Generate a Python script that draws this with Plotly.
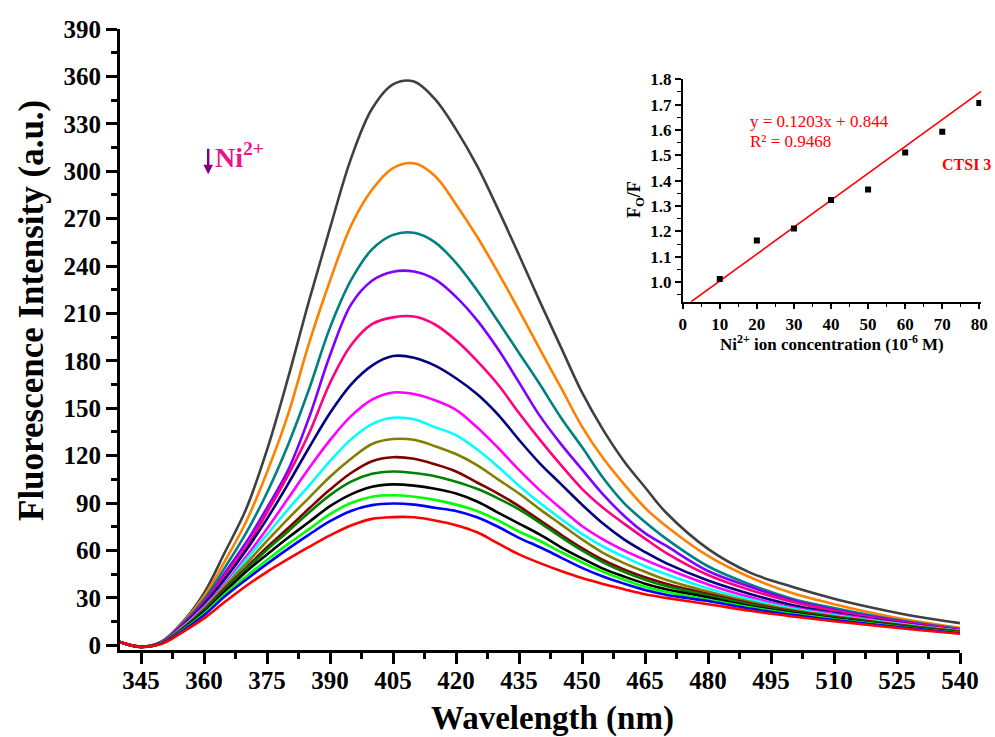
import plotly.graph_objects as go

# ---------------- data ----------------
wavelength = [340, 345, 350, 355, 360, 365, 370, 375, 380, 385, 390, 395, 400, 405, 410, 415, 420,
              425, 430, 435, 440, 445, 450, 455, 460, 465, 470, 480, 490, 500, 510, 520, 530, 540]

s_gray = [2, -1, 2.5, 15, 33, 59, 86, 123.6, 169, 218, 264, 308, 339.5, 355, 356.8, 345.6, 326.5,
          303.5, 276, 247, 217.3, 188.5, 160, 136.5, 116.5, 100, 84, 61, 46, 37, 29.5, 23.3, 18, 14]
s_orange = [2, -1, 2.4, 14.5, 31, 53.4, 78, 109.5, 146, 191, 230.7, 265.5, 288.3, 302, 305, 297,
            279, 258.7, 236, 212, 187.2, 163, 138.4, 118.5, 102, 87, 75.5, 56.5, 43, 33, 26, 20, 15, 11]
s_teal = [2, -1, 2.3, 14, 29, 49.3, 71, 96.5, 126.7, 162, 201, 231, 250.5, 259.7, 261, 255, 242,
          224.7, 205, 185, 165, 144, 125.4, 106, 90, 78, 67.5, 50, 38.5, 29.5, 23.5, 18.3, 14, 10.3]
s_purple = [2, -1, 2.2, 13.5, 27.5, 45.9, 65, 87, 110.7, 144, 183.5, 215.6, 230.7, 236.4, 236.5,
            231.5, 220.5, 205.8, 187.5, 166.4, 145, 127.3, 111.3, 95.5, 82, 71, 63, 47, 37, 28.5,
            22.5, 17.7, 13.6, 10]
s_pink = [2, -1, 2.1, 13, 27, 44, 62, 84, 107.5, 134, 166, 189.9, 203.2, 207.5, 208, 203, 193, 180,
          165, 147, 130, 114, 99, 87, 77, 67.5, 58.5, 44.5, 35, 27.5, 21.7, 17.1, 13.2, 9.8]
s_navy = [2, -1, 2, 12.5, 26, 42, 60, 80, 102, 125, 147, 165, 177, 183, 182, 177, 169, 159, 146, 130,
          115, 102, 89, 77, 67, 59, 52, 41, 32.5, 25.5, 20.5, 16.3, 12.7, 9.5]
s_magenta = [2, -1, 1.9, 12, 24.5, 39, 56, 73.7, 92.9, 112, 129.8, 145, 155.5, 160, 159, 155, 149,
             138, 125, 111, 98, 86.5, 75.5, 67, 60, 54, 48.5, 38.5, 30.5, 24, 19.8, 15.8, 12.3, 9.3]
s_cyan = [2, -1, 1.8, 11.5, 23.5, 38, 54, 70, 86, 101, 116.5, 130.3, 140, 144, 143, 138, 133, 124,
          113, 101, 90, 80, 70.5, 62.5, 56, 50, 45, 36, 29, 23.3, 19, 15.3, 12, 9.1]
s_olive = [2, -1, 1.7, 11, 23, 37.5, 51.5, 66, 80, 93.3, 106.6, 118, 127.4, 130.5, 130, 126, 121,
           114, 105, 96, 86, 76.5, 67, 58.5, 52, 46.5, 41.5, 34, 27.5, 22.3, 18.4, 14.9, 11.7, 8.9]
s_maroon = [2, -1, 1.6, 10.8, 22.5, 36, 49, 62, 74, 86.5, 98.5, 109, 116.5, 119, 118, 114.5, 110,
            103, 96, 88, 79, 70, 61.5, 54, 48, 43, 39, 32.5, 26.5, 21.6, 17.9, 14.5, 11.4, 8.6]
s_green = [2, -1, 1.5, 10.5, 22, 35, 48, 60.5, 72, 84, 95, 103.5, 108.5, 110, 109, 107, 103.5, 99,
           93, 86, 77.5, 68.5, 60, 52.5, 46.5, 41.5, 37.5, 31.5, 25.7, 21, 17.4, 14.1, 11.1, 8.3]
s_black = [2, -1, 1.4, 10.2, 21, 34, 46.5, 57.5, 68, 78, 88, 95.5, 100.3, 101.8, 101, 99, 96, 91,
           84, 77, 70, 62, 55, 48.5, 43.5, 39, 35.5, 30.3, 24.8, 20.5, 17, 13.8, 10.8, 8.1]
s_lime = [2, -1, 1.3, 9.8, 20, 32.5, 43.5, 54, 64, 73.5, 83, 90, 94, 94.9, 94, 92, 89, 85, 79, 72,
          66, 59, 52.5, 46.5, 41.5, 37, 33.8, 28.8, 24, 19.9, 16.5, 13.4, 10.5, 7.9]
s_blue = [2, -1, 1.2, 9.3, 19, 31, 41.5, 51.5, 61, 70, 78.5, 85, 88.7, 89.7, 89, 87, 85, 81, 75, 68,
          62, 55.5, 49, 43.5, 39, 35, 32, 28, 23.2, 19.3, 16, 13, 10.2, 7.6]
s_red = [2, -1, 1, 8.5, 17, 27.5, 37.5, 46.5, 54.5, 62.2, 69.5, 75.8, 80, 81.1, 81, 79, 76, 71.5,
         64.5, 57.5, 52, 47, 42.5, 38.8, 35.5, 32.3, 30, 26, 21.8, 18.3, 15.2, 12.3, 9.7, 7.3]

series = [s_gray, s_orange, s_teal, s_purple, s_pink, s_navy, s_magenta, s_cyan,
          s_olive, s_maroon, s_green, s_black, s_lime, s_blue, s_red]
colors = ["#404040", "#FF8000", "#008080", "#8000FF", "#FF0080", "#000080", "#FF00FF", "#00FFFF",
          "#808000", "#800000", "#008000", "#000000", "#00FF00", "#0000FF", "#FF0000"]

# inset data
conc = [10, 20, 30, 40, 50, 60, 70, 80]
f0_f = [1.012, 1.164, 1.212, 1.324, 1.365, 1.511, 1.593, 1.707]
fit_x = [2.2, 80.5]
fit_y = [0.922, 1.752]

main_xticks = [345, 360, 375, 390, 405, 420, 435, 450, 465, 480, 495, 510, 525, 540]
main_yticks = [0, 30, 60, 90, 120, 150, 180, 210, 240, 270, 300, 330, 360, 390]

FONT = "Liberation Serif"

fig = go.Figure()
for s, c in zip(series, colors):
    fig.add_trace(go.Scatter(x=wavelength, y=s, mode="lines",
                             line=dict(color=c, width=2.6, shape="spline", smoothing=1.0),
                             showlegend=False, hoverinfo="skip"))

fig.add_trace(go.Scatter(x=fit_x, y=fit_y, mode="lines", xaxis="x2", yaxis="y2",
                         line=dict(color="#FF0000", width=1.6), showlegend=False))
fig.add_trace(go.Scatter(x=conc, y=f0_f, mode="markers", xaxis="x2", yaxis="y2",
                         marker=dict(symbol="square", size=6, color="black"), showlegend=False))

axis_common = dict(showgrid=False, zeroline=False, showline=True, linecolor="black",
                   ticks="outside", tickcolor="black", mirror=False, automargin=False)

fig.update_layout(
    width=995, height=737, autosize=False,
    margin=dict(l=120, r=10, t=29, b=87, autoexpand=False),
    paper_bgcolor="white", plot_bgcolor="white",
    font=dict(family=FONT, color="black"),
    xaxis=dict(**axis_common, domain=[0, 840 / 865], range=[340, 540],
               tickvals=main_xticks, linewidth=3, tickwidth=2.6, ticklen=11,
               ticklabelstandoff=-5,
               tickfont=dict(family=FONT, size=25, color="black", weight="bold"),
               minor=dict(ticks="outside", dtick=7.5, tick0=345, ticklen=6, tickwidth=2.6,
                          tickcolor="black")),
    yaxis=dict(**axis_common, domain=[0, 1], range=[-3, 390],
               tickvals=main_yticks, linewidth=3, tickwidth=2.6, ticklen=11,
               tickfont=dict(family=FONT, size=25, color="black", weight="bold"),
               minor=dict(ticks="outside", dtick=15, tick0=0, ticklen=6, tickwidth=2.6,
                          tickcolor="black")),
    xaxis2=dict(**axis_common, domain=[0.6505, 0.9956], range=[0, 80.5], anchor="y2",
                dtick=10, tick0=0, linewidth=1.6, tickwidth=1.5, ticklen=6,
                tickfont=dict(family=FONT, size=17, color="black", weight="bold"),
                minor=dict(ticks="outside", dtick=5, ticklen=3.5, tickwidth=1.3, tickcolor="black")),
    yaxis2=dict(**axis_common, domain=[0.5609, 0.919], range=[0.923, 1.8], anchor="x2",
                dtick=0.1, tick0=1.0, tickformat=".1f", linewidth=1.6, tickwidth=1.5, ticklen=6,
                tickfont=dict(family=FONT, size=17, color="black", weight="bold"),
                minor=dict(ticks="outside", dtick=0.05, ticklen=3.5, tickwidth=1.3,
                           tickcolor="black")),
)

ann = []
# main axis titles
ann.append(dict(text="<b>Wavelength (nm)</b>", xref="paper", yref="paper", x=(552 - 120) / 865,
                y=(650 - 718) / 621, xanchor="center", yanchor="middle", showarrow=False,
                font=dict(family=FONT, size=33, color="black")))
ann.append(dict(text="<b>Fluorescence Intensity (a.u.)</b>", xref="paper", yref="paper",
                x=(31 - 120) / 865, y=(650 - 311) / 621, xanchor="center", yanchor="middle",
                textangle=-90, showarrow=False, font=dict(family=FONT, size=35, color="black")))
# Ni2+ arrow + label
ann.append(dict(text="", x=361.0, y=298, xref="x", yref="y", showarrow=True, ax=0, ay=-27,
                arrowhead=2, arrowsize=0.8, arrowwidth=2.4, arrowcolor="#800080"))
ann.append(dict(text="<b>Ni<sup>2+</sup></b>", x=362.1, y=310, xref="x", yref="y",
                xanchor="left", yanchor="middle", showarrow=False,
                font=dict(family=FONT, size=28, color="#EE1289")))
# inset texts
ann.append(dict(text="y = 0.1203x + 0.844", x=17.6, y=1.632, xref="x2", yref="y2",
                xanchor="left", yanchor="middle", showarrow=False,
                font=dict(family=FONT, size=17, color="#FF0000")))
ann.append(dict(text="R² = 0.9468", x=17.6, y=1.553, xref="x2", yref="y2",
                xanchor="left", yanchor="middle", showarrow=False,
                font=dict(family=FONT, size=17, color="#FF0000")))
ann.append(dict(text="<b>CTSI 3</b>", x=69.4, y=1.464, xref="x2", yref="y2",
                xanchor="left", yanchor="middle", showarrow=False,
                font=dict(family=FONT, size=16, color="#FF0000")))
ann.append(dict(text="<b>Ni<sup>2+</sup> ion concentration (10<sup>-6</sup> M)</b>",
                xref="paper", yref="paper", x=(832 - 120) / 865, y=(650 - 342.7) / 621,
                xanchor="center", yanchor="middle", showarrow=False,
                font=dict(family=FONT, size=17, color="black")))
ann.append(dict(text="<b>F<sub>O</sub>/F</b>", xref="paper", yref="paper",
                x=(635 - 120) / 865, y=(650 - 200) / 621, xanchor="center", yanchor="middle",
                textangle=-90, showarrow=False, font=dict(family=FONT, size=18, color="black")))
fig.update_layout(annotations=ann)

fig.write_html("out.html")
